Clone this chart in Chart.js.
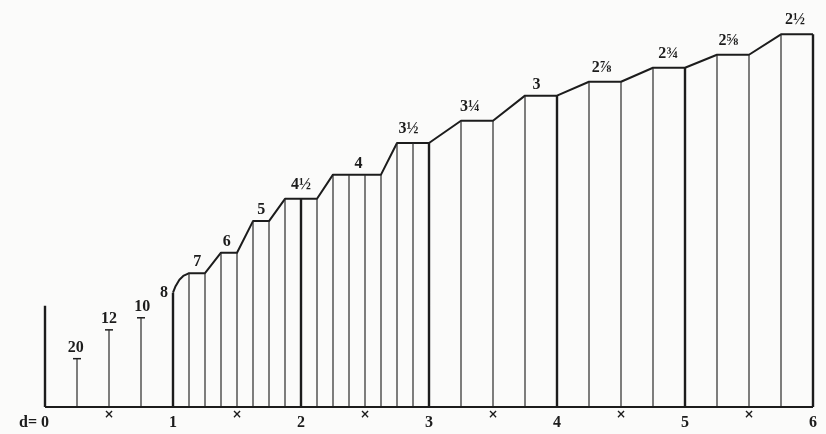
<!DOCTYPE html>
<html>
<head>
<meta charset="utf-8">
<script src="https://cdn.jsdelivr.net/npm/chart.js@4.4.1/dist/chart.umd.min.js"></script>
<style>
  html, body { margin: 0; padding: 0; background: #fbfbfa; }
  #wrap { width: 826px; height: 434px; }
</style>
</head>
<body>
<div id="wrap"><canvas id="chart" width="826" height="434"></canvas></div>
<script>
// diameters (inches) of the drawn verticals and their height (pitch)
const diameters = [0, 0.25, 0.5, 0.75, 1, 1.125, 1.25, 1.375, 1.5, 1.625, 1.75, 1.875, 2,
  2.125, 2.25, 2.375, 2.5, 2.625, 2.75, 2.875, 3, 3.25, 3.5, 3.75, 4, 4.25, 4.5, 4.75, 5,
  5.25, 5.5, 5.75, 6];
const pitches = [0.109, 0.052, 0.083, 0.096, 0.123, 0.144, 0.144, 0.166, 0.166, 0.2, 0.2,
  0.224, 0.224, 0.224, 0.25, 0.25, 0.25, 0.25, 0.284, 0.284, 0.284, 0.308, 0.308, 0.335,
  0.335, 0.35, 0.35, 0.365, 0.365, 0.379, 0.379, 0.401, 0.401];

// upper outline joining the tops (the 8 -> 7 step is a small curve)
const outlineD = [1, 1.02, 1.05, 1.08, 1.11, 1.125, 1.25, 1.375, 1.5, 1.625, 1.75, 1.875,
  2.125, 2.25, 2.625, 2.75, 3, 3.25, 3.5, 3.75, 4, 4.25, 4.5, 4.75, 5, 5.25, 5.5, 5.75, 6];
const outlineP = [0.123, 0.13, 0.137, 0.141, 0.143, 0.144, 0.144, 0.166, 0.166, 0.2, 0.2,
  0.224, 0.224, 0.25, 0.25, 0.284, 0.284, 0.308, 0.308, 0.335, 0.335, 0.35, 0.35, 0.365,
  0.365, 0.379, 0.379, 0.401, 0.401];

// threads per inch written over each group
const threadText = ['20', '12', '10', '8', '7', '6', '5', '4½', '4', '3½', '3¼', '3', '2⅞',
  '2¾', '2⅝', '2½'];
const threadD = [0.24, 0.5, 0.76, 0.93, 1.19, 1.42, 1.69, 2.0, 2.45, 2.84, 3.32, 3.84, 4.35,
  4.87, 5.34, 5.86];
const threadP = [0.052, 0.083, 0.096, 0.123, 0.144, 0.166, 0.2, 0.224, 0.25, 0.284, 0.308,
  0.335, 0.35, 0.365, 0.379, 0.401];

// axis
const axisValues = [0, 1, 2, 3, 4, 5, 6];
const axisLabels = ['0', '1', '2', '3', '4', '5', '6'];
const axisCrosses = [0.5, 1.5, 2.5, 3.5, 4.5, 5.5];
const smallSizes = [0.25, 0.5, 0.75];

const INK = '#1c1c1c';

const verticals = (thick) => {
  const pts = [];
  diameters.forEach((d, i) => {
    if (Number.isInteger(d) !== thick) return;
    pts.push({ x: d, y: 0 }, { x: d, y: pitches[i] }, { x: d, y: null });
  });
  return pts;
};

const textPlugin = {
  id: 'engraving',
  afterDatasetsDraw(chart) {
    const { ctx, scales: { x, y } } = chart;
    ctx.save();
    ctx.fillStyle = INK;
    ctx.textAlign = 'center';
    ctx.textBaseline = 'middle';
    ctx.font = 'bold 16px "Liberation Serif"';
    threadText.forEach((t, i) => {
      const lift = t === '8' ? 0 : (/^\d+$/.test(t) ? 11 : 14);
      ctx.fillText(t, x.getPixelForValue(threadD[i]), y.getPixelForValue(threadP[i]) - lift);
    });

    const base = y.getPixelForValue(0);
    axisValues.forEach((v, i) => {
      ctx.fillText(axisLabels[i], x.getPixelForValue(v), base + 16);
    });
    ctx.textAlign = 'right';
    ctx.fillText('d=', x.getPixelForValue(0) - 8, base + 16);
    ctx.textAlign = 'center';
    ctx.font = 'bold 12px "DejaVu Sans"';
    axisCrosses.forEach((v) => {
      ctx.fillText('×', x.getPixelForValue(v), base + 8);
    });
    ctx.restore();
  },
};

new Chart(document.getElementById('chart'), {
  type: 'line',
  data: {
    datasets: [
      {
        data: [{ x: 0, y: 0 }, { x: 6, y: 0 }],
        borderColor: INK,
        borderWidth: 2,
      },
      {
        data: verticals(false),
        borderColor: '#2a2a2a',
        borderWidth: 1.2,
        spanGaps: false,
      },
      {
        data: verticals(true),
        borderColor: INK,
        borderWidth: 2.4,
        spanGaps: false,
      },
      {
        data: outlineD.map((d, i) => ({ x: d, y: outlineP[i] })),
        borderColor: INK,
        borderWidth: 2,
        borderJoinStyle: 'round',
      },
      {
        data: smallSizes.map((d) => ({ x: d, y: pitches[diameters.indexOf(d)] })),
        showLine: false,
        pointStyle: 'line',
        pointRadius: 4,
        borderColor: INK,
        borderWidth: 1.5,
      },
    ],
  },
  options: {
    responsive: false,
    animation: false,
    events: [],
    datasets: { line: { pointRadius: 0, tension: 0, clip: false, fill: false } },
    layout: { padding: { left: 45, right: 13, top: 0, bottom: 27 } },
    scales: {
      x: { type: 'linear', min: 0, max: 6, display: false },
      y: { min: 0, max: 0.432, display: false },
    },
    plugins: { legend: { display: false }, tooltip: { enabled: false } },
  },
  plugins: [textPlugin],
});
</script>
</body>
</html>
